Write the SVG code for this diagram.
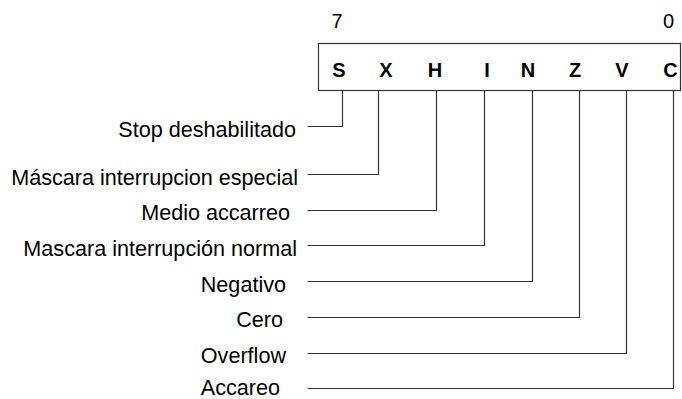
<svg xmlns="http://www.w3.org/2000/svg" width="682" height="399" viewBox="0 0 682 399">
<style>
.lbl{font-family:"Liberation Sans",Arial,sans-serif;font-size:21.6px;fill:#000;text-anchor:end}
.bit{font-family:"Liberation Sans",Arial,sans-serif;font-size:20px;font-weight:bold;fill:#000;text-anchor:middle}
.num{font-family:"Liberation Sans",Arial,sans-serif;font-size:20px;fill:#000;text-anchor:middle}
.ln{fill:none;stroke:#333;stroke-width:1.2}
</style>
<rect width="682" height="399" fill="#fff"/>
<g id="register">
<rect x="318.5" y="43.5" width="362" height="47" fill="#fff" stroke="#333" stroke-width="1.2"/>
<text class="num" x="337" y="28">7</text>
<text class="num" x="668.5" y="28">0</text>
<text class="bit" x="339" y="77">S</text>
<text class="bit" x="386" y="77">X</text>
<text class="bit" x="435" y="77">H</text>
<text class="bit" x="487" y="77">I</text>
<text class="bit" x="528" y="77">N</text>
<text class="bit" x="575" y="77">Z</text>
<text class="bit" x="622" y="77">V</text>
<text class="bit" x="670.5" y="77">C</text>
</g>
<g id="connectors">
<polyline class="ln" points="342.5,90.5 342.5,126.5 307.5,126.5"/>
<polyline class="ln" points="378.5,90.5 378.5,174.5 307.5,174.5"/>
<polyline class="ln" points="436.5,90.5 436.5,210.5 307.5,210.5"/>
<polyline class="ln" points="484.5,90.5 484.5,245.5 307.5,245.5"/>
<polyline class="ln" points="532.5,90.5 532.5,281.5 307.5,281.5"/>
<polyline class="ln" points="579.5,90.5 579.5,317.5 307.5,317.5"/>
<polyline class="ln" points="626.5,90.5 626.5,353.5 307.5,353.5"/>
<polyline class="ln" points="673.5,90.5 673.5,388.5 307.5,388.5"/>
</g>
<g id="label-S"><text class="lbl" x="296" y="136.5">Stop deshabilitado</text></g>
<g id="label-X"><text class="lbl" x="298" y="184.5">Máscara interrupcion especial</text></g>
<g id="label-H"><text class="lbl" x="290" y="220">Medio accarreo</text></g>
<g id="label-I"><text class="lbl" x="297" y="255.5">Mascara interrupción normal</text></g>
<g id="label-N"><text class="lbl" x="286" y="291.5">Negativo</text></g>
<g id="label-Z"><text class="lbl" x="283" y="327">Cero</text></g>
<g id="label-V"><text class="lbl" x="286" y="362.5">Overflow</text></g>
<g id="label-C"><text class="lbl" x="280" y="394.5">Accareo</text></g>
</svg>
